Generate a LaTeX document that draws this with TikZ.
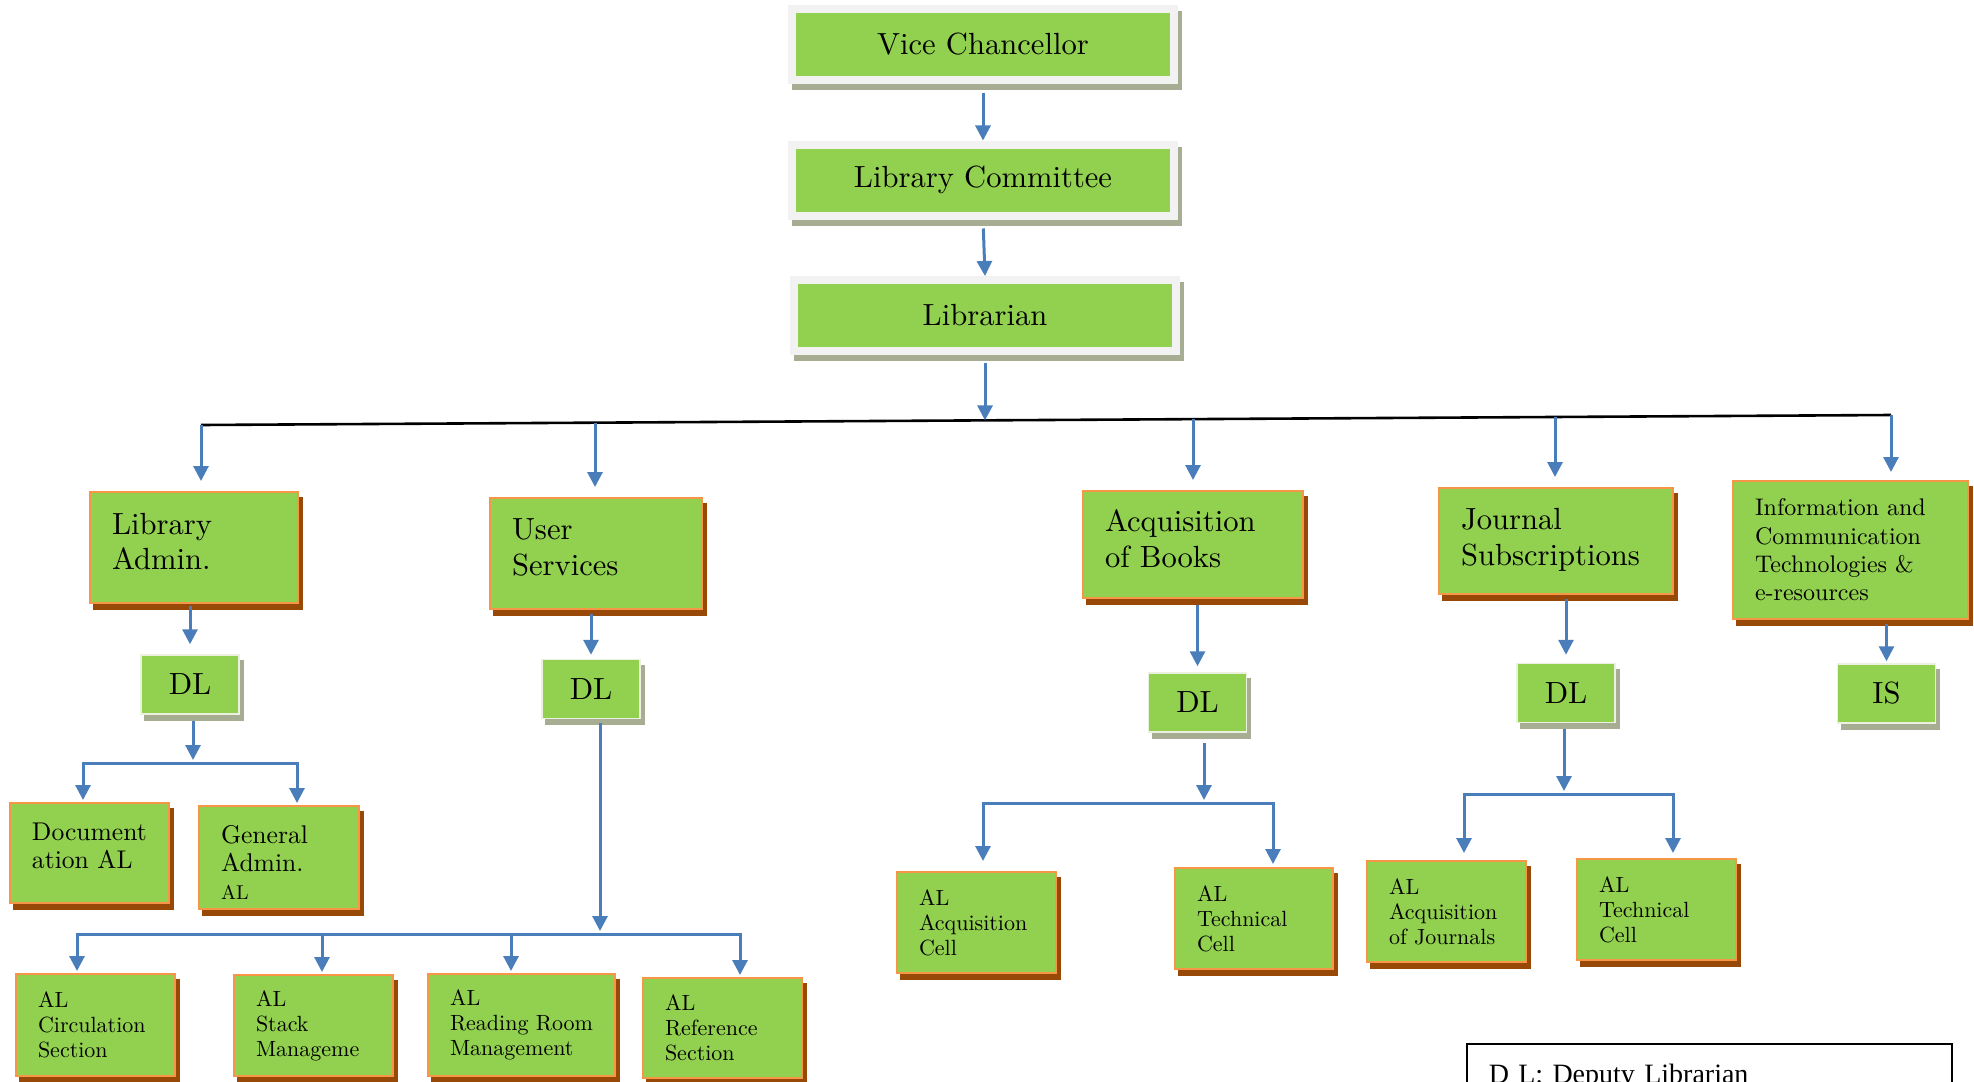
\documentclass[tikz,border=0pt]{standalone}
\usepackage{fontspec}
\setmainfont{lmroman10-regular.otf}
\newfontfamily\notefont{Liberation Serif}
\usetikzlibrary{arrows.meta}
\definecolor{leaf}{HTML}{92D050}
\definecolor{rim}{HTML}{F79646}
\definecolor{rust}{HTML}{984807}
\definecolor{mist}{HTML}{F2F2F2}
\definecolor{olive}{HTML}{A6AD93}
\definecolor{pale}{HTML}{EBF1DE}
\definecolor{wire}{HTML}{4A7EBB}
\begin{document}
\begin{tikzpicture}[x=0.5pt,y=-0.5pt]
    \tikzset{backing/.style = {preaction={draw=#1,fill=#1,transform canvas={xshift=2pt,yshift=-3pt}}}}
    \tikzset{boxsize/.style 2 args = {text width=#1*0.5pt-22pt,minimum height=#2*0.5pt}}
    \tikzset{lift/.style = {execute at end node={\par\vspace{#1}\hrule height 0pt}}}
    \tikzset{head/.style = {draw=mist,line width=4pt,fill=leaf,backing=olive,minimum width=191pt,
      minimum height=35.5pt,font=\fontsize{15.3}{17.8}\selectfont}}
    \tikzset{dept/.style = {draw=rim,line width=1pt,fill=leaf,backing=rust,inner xsep=11pt,align=left,
      font=\fontsize{15.3}{17.8}\selectfont}}
    \tikzset{cell/.style = {draw=rim,line width=1pt,fill=leaf,backing=rust,inner xsep=11pt,align=left,
      font=\fontsize{11}{12.5}\selectfont}}
    \tikzset{deputy/.style = {draw=pale,line width=0.75pt,fill=leaf,backing=olive,minimum width=49pt,
      minimum height=29.5pt,font=\fontsize{15.3}{17.8}\selectfont}}
    \tikzset{link/.style = {draw=wire,line width=1.5pt,-{Triangle[width=7.5pt,length=7.5pt]}}}
    \tikzset{bus/.style = {draw=black,line width=1.3pt}}
    \tikzset{note/.style = {draw=black,line width=0.75pt,anchor=north west,inner xsep=11pt,inner ysep=10pt,
      text width=220.5pt,align=left,font=\notefont\fontsize{14}{16}\selectfont}}
    \useasboundingbox (0,0) rectangle (1974,1081);
    \node[head] (vc) at (983,44.5) {Vice Chancellor};
    \node[head] (lc) at (983,180) {Library Committee};
    \node[head] (lib) at (985,315.5) {Librarian};
    \node[dept,lift=6pt,boxsize={208}{111}] (la) at (194,547.5) {Library\\Admin.};
    \node[dept,lift=6pt,boxsize={212}{111}] (us) at (596,553.5) {User\\Services};
    \node[dept,lift=6pt,boxsize={220}{107}] (ab) at (1193,544.5) {Acquisition\\of Books};
    \node[dept,lift=1pt,boxsize={234}{106}] (js) at (1556,541) {Journal\\Subscriptions};
    \node[dept,boxsize={235}{138},font=\fontsize{12}{14.2}\selectfont] (ict) at (1850.5,550)
      {Information and\\Communication\\Technologies \&\\e-resources};
    \node[deputy] (dl1) at (190,684.5) {DL}; \node[deputy] (dl2) at (591,689) {DL};
    \node[deputy] (dl3) at (1197.5,702.5) {DL}; \node[deputy] (dl4) at (1566,693) {DL};
    \node[deputy] (is) at (1886.5,693.5) {IS};
    \node[cell,lift=7pt,boxsize={159}{100},font=\fontsize{12.8}{14}\selectfont] (doc) at (89.5,853)
      {Document\\ation AL};
    \node[cell,lift=-5pt,boxsize={160}{103},font=\fontsize{12.8}{14}\selectfont] (ga) at (279,857.5)
      {General\\Admin.\\{\fontsize{10}{14}\selectfont AL}};
    \node[cell,boxsize={159}{102}] (circ) at (95.5,1025) {AL\\Circulation\\Section};
    \node[cell,boxsize={159}{101}] (stack) at (313.5,1025.5) {AL\\Stack\\Manageme};
    \node[cell,boxsize={187}{102}] (rr) at (521.5,1025) {AL\\Reading~Room\\Management};
    \node[cell,boxsize={159}{100}] (ref) at (722.5,1028) {AL\\Reference\\Section};
    \node[cell,boxsize={159}{101}] (acqc) at (976.5,922.5) {AL\\Acquisition\\Cell};
    \node[cell,boxsize={158}{101}] (techc) at (1254,918.5) {AL\\Technical\\Cell};
    \node[cell,boxsize={159}{101}] (acqj) at (1446.5,911.5) {AL\\Acquisition\\of Journals};
    \node[cell,boxsize={159}{101}] (techj) at (1656.5,909.5) {AL\\Technical\\Cell};
    \node[note] (key) at (1466,1043) {D L: Deputy Librarian};
    \draw[link,shorten <=4.5pt] (vc.south) -- (lc.north);
    \draw[link,shorten <=4.5pt] (lc.south) -- (lib.north);
    \coordinate (b0) at (201,425); \coordinate (b1) at (595,422.7); \coordinate (bm) at (985,420.4);
    \coordinate (b2) at (1193,419.1); \coordinate (b3) at (1555,417); \coordinate (b5) at (1891,415);
    \draw[bus] (b0) -- (b5);
    \draw[link,shorten <=4pt] (lib.south) -- (bm);
    \draw[link,shorten >=5pt] (b0) -- (b0 |- la.north); \draw[link,shorten >=5pt] (b1) -- (b1 |- us.north);
    \draw[link,shorten >=5pt] (b2) -- (b2 |- ab.north); \draw[link,shorten >=5pt] (b3) -- (b3 |- js.north);
    \draw[link,shorten >=4pt] (b5) -- (b5 |- ict.north);
    \draw[link,shorten <=1pt,shorten >=5pt] (dl1 |- la.south) -- (dl1.north);
    \draw[link,shorten <=2pt,shorten >=2pt] (dl2 |- us.south) -- (dl2.north);
    \draw[link,shorten <=3pt,shorten >=3pt] (dl3 |- ab.south) -- (dl3.north);
    \draw[link,shorten <=2pt,shorten >=4pt] (dl4 |- js.south) -- (dl4.north);
    \draw[link,shorten <=2pt,shorten >=1pt] (is |- ict.south) -- (is.north);
    \coordinate (j1) at (193,763); \coordinate (j1a) at (83,763); \coordinate (j1b) at (297,763);
    \draw[link,shorten <=3pt,shorten >=1.5pt] (j1 |- dl1.south) -- (j1);
    \draw[link,shorten >=1pt] (j1) -- (j1a) -- (j1a |- doc.north);
    \draw[link,shorten >=1pt] (j1) -- (j1b) -- (j1b |- ga.north);
    \coordinate (j2) at (600,934); \coordinate (j2a) at (77,934); \coordinate (j2b) at (322,934);
    \coordinate (j2c) at (511,934); \coordinate (j2d) at (740,934);
    \draw[link,shorten <=2pt,shorten >=1.5pt] (j2 |- dl2.south) -- (j2);
    \draw[link,shorten >=1pt] (j2) -- (j2a) -- (j2a |- circ.north);
    \draw[link,shorten >=1pt] (j2) -- (j2b) -- (j2b |- stack.north);
    \draw[link,shorten >=1pt] (j2) -- (j2c) -- (j2c |- rr.north);
    \draw[link,shorten >=1pt] (j2) -- (j2d) -- (j2d |- ref.north);
    \coordinate (j3) at (1204,803); \coordinate (j3a) at (983,803); \coordinate (j3b) at (1273,803);
    \draw[link,shorten <=5pt,shorten >=1.5pt] (j3 |- dl3.south) -- (j3);
    \draw[link,shorten >=5pt] (j3) -- (j3a) -- (j3a |- acqc.north);
    \draw[link,shorten >=1.5pt] (j3) -- (j3b) -- (j3b |- techc.north);
    \coordinate (j4) at (1564,794); \coordinate (j4a) at (1464,794); \coordinate (j4b) at (1673,794);
    \draw[link,shorten <=3pt,shorten >=1.5pt] (j4 |- dl4.south) -- (j4);
    \draw[link,shorten >=3.5pt] (j4) -- (j4a) -- (j4a |- acqj.north);
    \draw[link,shorten >=2.5pt] (j4) -- (j4b) -- (j4b |- techj.north);
  \end{tikzpicture}
\end{document}
